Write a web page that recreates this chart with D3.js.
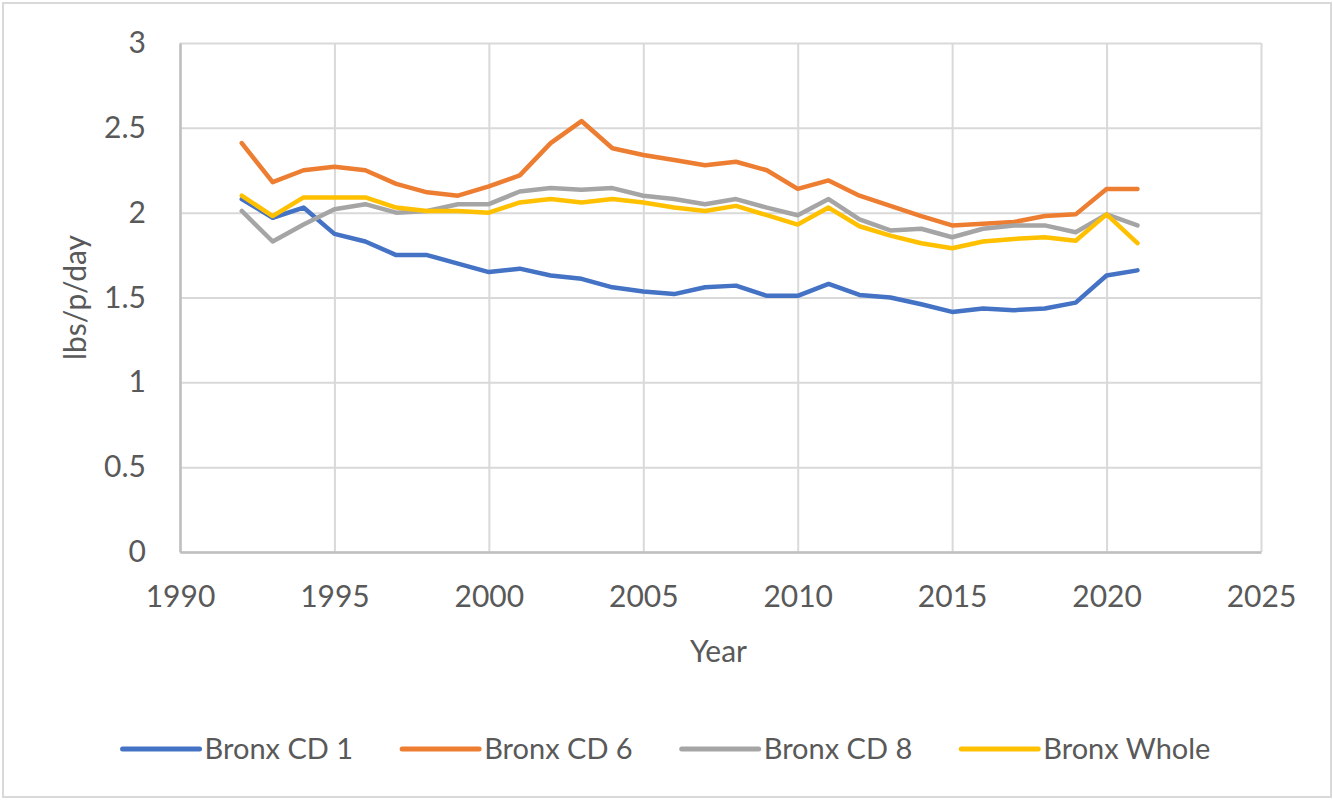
<!DOCTYPE html>
<html>
<head>
<meta charset="utf-8">
<script src="https://cdn.jsdelivr.net/npm/d3@7"></script>
<style>
  body { margin: 0; background: #fff; }
  svg { display: block; }
</style>
</head>
<body>
<script>
const years = [1992, 1993, 1994, 1995, 1996, 1997, 1998, 1999, 2000, 2001,
               2002, 2003, 2004, 2005, 2006, 2007, 2008, 2009, 2010, 2011,
               2012, 2013, 2014, 2015, 2016, 2017, 2018, 2019, 2020, 2021];

const bronxCD1 = [2.08, 1.97, 2.03, 1.875, 1.83, 1.75, 1.75, 1.70, 1.65, 1.67,
                  1.63, 1.61, 1.56, 1.535, 1.52, 1.56, 1.57, 1.51, 1.51, 1.58,
                  1.515, 1.50, 1.46, 1.415, 1.435, 1.425, 1.435, 1.47, 1.63, 1.66];
const bronxCD6 = [2.41, 2.18, 2.25, 2.27, 2.25, 2.17, 2.12, 2.10, 2.155, 2.22,
                  2.41, 2.54, 2.38, 2.34, 2.31, 2.28, 2.30, 2.25, 2.14, 2.19,
                  2.10, 2.04, 1.98, 1.925, 1.935, 1.945, 1.98, 1.99, 2.14, 2.14];
const bronxCD8 = [2.01, 1.83, 1.93, 2.02, 2.05, 2.00, 2.01, 2.05, 2.05, 2.125,
                  2.145, 2.135, 2.145, 2.10, 2.08, 2.05, 2.08, 2.03, 1.985, 2.08,
                  1.96, 1.895, 1.905, 1.855, 1.905, 1.925, 1.925, 1.885, 1.99, 1.925];
const bronxWhole = [2.10, 1.98, 2.09, 2.09, 2.09, 2.03, 2.01, 2.01, 2.00, 2.06,
                    2.08, 2.06, 2.08, 2.06, 2.03, 2.01, 2.04, 1.985, 1.93, 2.03,
                    1.92, 1.865, 1.82, 1.79, 1.83, 1.845, 1.855, 1.835, 1.99, 1.82];

const seriesNames = ['Bronx CD 1', 'Bronx CD 6', 'Bronx CD 8', 'Bronx Whole'];
const xTicks = [1990, 1995, 2000, 2005, 2010, 2015, 2020, 2025];
const yTicks = [0, 0.5, 1, 1.5, 2, 2.5, 3];

const series = [
    { name: seriesNames[0], values: bronxCD1, color: '#4472C4' },
    { name: seriesNames[1], values: bronxCD6, color: '#ED7D31' },
    { name: seriesNames[2], values: bronxCD8, color: '#A5A5A5' },
    { name: seriesNames[3], values: bronxWhole, color: '#FFC000' }
];

const W = 1333, H = 800;
const margin = { top: 43, right: 72, bottom: 248, left: 180 };
const width = W - margin.left - margin.right;
const height = H - margin.top - margin.bottom;
const font = 'Lato, "Open Sans", sans-serif';
const textColor = '#595959';

const svg = d3.select('body').append('svg')
    .attr('width', W)
    .attr('height', H);

svg.append('rect')
    .attr('x', 3).attr('y', 3)
    .attr('width', W - 5).attr('height', H - 6)
    .attr('fill', 'white')
    .attr('stroke', '#d9d9d9')
    .attr('stroke-width', 2);

const g = svg.append('g')
    .attr('transform', `translate(${margin.left},${margin.top})`);

const x = d3.scaleLinear().domain([1990, 2025]).range([0, width]);
const y = d3.scaleLinear().domain([0, 3]).range([height, 0]);

// grid lines
g.append('g')
    .call(d3.axisLeft(y).tickValues(yTicks).tickSize(-width).tickFormat(''))
    .call(a => a.select('.domain').remove())
    .call(a => a.selectAll('line').attr('stroke', '#d9d9d9').attr('stroke-width', 2));

g.append('g')
    .attr('transform', `translate(0,${height})`)
    .call(d3.axisBottom(x).tickValues(xTicks).tickSize(-height).tickFormat(''))
    .call(a => a.select('.domain').remove())
    .call(a => a.selectAll('line').attr('stroke', '#d9d9d9').attr('stroke-width', 2));

// axes
g.append('g')
    .call(d3.axisLeft(y).tickValues(yTicks).tickSize(0).tickPadding(34).tickFormat(d3.format('')))
    .call(a => a.select('.domain').attr('stroke', '#bfbfbf').attr('stroke-width', 2.5))
    .call(a => a.selectAll('text')
        .attr('fill', textColor)
        .style('font-family', font)
        .style('font-size', '30px'));

g.append('g')
    .attr('transform', `translate(0,${height})`)
    .call(d3.axisBottom(x).tickValues(xTicks).tickSize(0).tickPadding(34).tickFormat(d3.format('d')))
    .call(a => a.select('.domain').attr('stroke', '#bfbfbf').attr('stroke-width', 2.5))
    .call(a => a.selectAll('text')
        .attr('fill', textColor)
        .style('font-family', font)
        .style('font-size', '30px'));

// lines
const line = d3.line()
    .x((d, i) => x(years[i]))
    .y(d => y(d));

series.forEach(s => {
    g.append('path')
        .datum(s.values)
        .attr('fill', 'none')
        .attr('stroke', s.color)
        .attr('stroke-width', 4.5)
        .attr('stroke-linejoin', 'round')
        .attr('stroke-linecap', 'round')
        .attr('d', line);
});

// axis titles
g.append('text')
    .attr('transform', 'rotate(-90)')
    .attr('x', -height / 2)
    .attr('y', 86 - margin.left)
    .attr('text-anchor', 'middle')
    .attr('fill', textColor)
    .style('font-family', font)
    .style('font-size', '30px')
    .text('lbs/p/day');

g.append('text')
    .attr('x', width / 2 - 2)
    .attr('y', 662 - margin.top)
    .attr('text-anchor', 'middle')
    .attr('fill', textColor)
    .style('font-family', font)
    .style('font-size', '30px')
    .text('Year');

// legend
const legend = svg.append('g')
    .style('font-family', font)
    .style('font-size', '29px');

const items = legend.selectAll('g')
    .data(series)
    .join('g');

items.append('line')
    .attr('x1', 0).attr('x2', 77)
    .attr('y1', 0).attr('y2', 0)
    .attr('stroke', d => d.color)
    .attr('stroke-width', 5)
    .attr('stroke-linecap', 'round');

items.append('text')
    .attr('x', 82)
    .attr('dy', '0.35em')
    .attr('fill', textColor)
    .text(d => d.name);

const gap = 49;
const widths = items.nodes().map(n => n.getBBox().width);
const total = d3.sum(widths) + gap * (widths.length - 1);
let cursor = W / 2 - total / 2;
items.attr('transform', (d, i) => {
    const t = `translate(${cursor},749)`;
    cursor += widths[i] + gap;
    return t;
});
</script>
</body>
</html>
